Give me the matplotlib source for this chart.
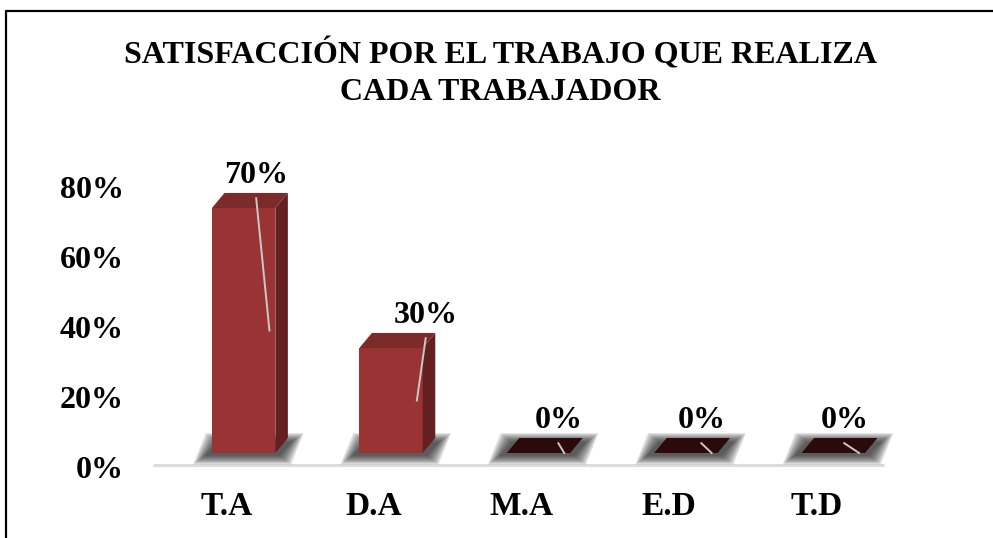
import matplotlib
matplotlib.use("Agg")
import matplotlib.pyplot as plt
from matplotlib.patches import Polygon, Rectangle
from matplotlib.lines import Line2D

# ---- data ----
categories = ["T.A", "D.A", "M.A", "E.D", "T.D"]
values = [0.70, 0.30, 0.00, 0.00, 0.00]
value_labels = ["70%", "30%", "0%", "0%", "0%"]
yticks = [0.0, 0.2, 0.4, 0.6, 0.8]
ytick_labels = ["0%", "20%", "40%", "60%", "80%"]
title_lines = ["SATISFACCIÓN POR EL TRABAJO QUE REALIZA", "CADA TRABAJADOR"]

# ---- layout / style ----
label_dx = [0.20, 0.35, 0.25, 0.22, 0.19]
FONT = ["Liberation Serif", "DejaVu Serif"]
FRONT = "#9a3434"
SIDE = "#642020"
TOP = "#7c2a2a"
ZERO_TOP = "#2c0a0a"
W, H, DPI = 993, 538, 100

fig = plt.figure(figsize=(W / DPI, H / DPI), dpi=DPI)
fig.patch.set_facecolor("white")
ax = fig.add_axes([153 / W, (H - 467) / H, 737 / W, 297.5 / H])
ax.set_xlim(-0.5, 4.5)
ax.set_ylim(0, 0.85)
for s in ax.spines.values():
    s.set_visible(False)

DX, DY = 0.085, 0.043   # 3D depth offsets
LIFT = 0.04             # bars sit behind the floor line
BW = 0.43               # bar width
OFF = -0.10             # bar left offset from category

# floor line
ax.plot([-0.5, 4.46], [0.006, 0.006], color="#dcdcdc", lw=2.2,
        solid_capstyle="butt", zorder=1, clip_on=False)

for i, v in enumerate(values):
    x0 = i + OFF
    # blurred shadow
    n = 8
    for k in range(n):
        e = 0.011 * (n - 1 - k)
        ey = 0.0035 * (n - 1 - k)
        sh = Polygon([(x0 - 0.05 - e, LIFT - 0.008 - ey),
                      (x0 + BW + 0.03 + e, LIFT - 0.008 - ey),
                      (x0 + BW + 0.03 + DX + e, LIFT + DY * 0.75 + ey),
                      (x0 - 0.05 + DX - e, LIFT + DY * 0.75 + ey)],
                     closed=True, facecolor="#1a1a1a", edgecolor="none",
                     alpha=0.14, zorder=2, clip_on=False)
        ax.add_patch(sh)
    if v > 0:
        ax.add_patch(Rectangle((x0, LIFT), BW, v, facecolor=FRONT,
                               edgecolor="none", zorder=3, clip_on=False))
        ax.add_patch(Polygon([(x0 + BW, LIFT), (x0 + BW + DX, LIFT + DY),
                              (x0 + BW + DX, LIFT + v + DY), (x0 + BW, LIFT + v)],
                             closed=True, facecolor=SIDE, edgecolor="none",
                             zorder=3, clip_on=False))
        ax.add_patch(Polygon([(x0, LIFT + v), (x0 + BW, LIFT + v),
                              (x0 + BW + DX, LIFT + v + DY), (x0 + DX, LIFT + v + DY)],
                             closed=True, facecolor=TOP, edgecolor="none",
                             zorder=3, clip_on=False))
    else:
        ax.add_patch(Polygon([(x0, LIFT), (x0 + BW, LIFT),
                              (x0 + BW + DX, LIFT + DY), (x0 + DX, LIFT + DY)],
                             closed=True, facecolor=ZERO_TOP, edgecolor="none",
                             zorder=3, clip_on=False))
    # data label and leader line
    lx, ly = i + label_dx[i], v + 0.134
    ax.text(lx, ly, value_labels[i], ha="center", va="center", fontsize=23,
            fontweight="bold", family=FONT, color="black", zorder=5)
    ax.plot([lx, i + 0.29], [ly - 0.066, LIFT + v / 2], color="#c8c8c8",
            lw=1.4, zorder=4, clip_on=False)

ax.set_xticks(range(len(categories)), categories)
ax.set_yticks(yticks, ytick_labels)
ax.tick_params(axis="both", length=0)
ax.tick_params(axis="y", pad=21)
ax.tick_params(axis="x", pad=17)
for lab in ax.get_xticklabels():
    lab.set_fontsize(24); lab.set_fontweight("bold"); lab.set_family(FONT)
for lab in ax.get_yticklabels():
    lab.set_fontsize(23); lab.set_fontweight("bold"); lab.set_family(FONT)

# title
fig.text(500 / W, 1 - 54 / H, title_lines[0], ha="center", va="center",
         fontsize=23, fontweight="bold", family=FONT)
fig.text(500 / W, 1 - 92 / H, title_lines[1], ha="center", va="center",
         fontsize=23, fontweight="bold", family=FONT)

# border (left and top visible)
fig.add_artist(Line2D([6 / W, 6 / W, 1.0], [0.0, 1 - 11 / H, 1 - 11 / H],
                      transform=fig.transFigure, color="black", lw=1.6))

fig.savefig("out.png", dpi=DPI)
